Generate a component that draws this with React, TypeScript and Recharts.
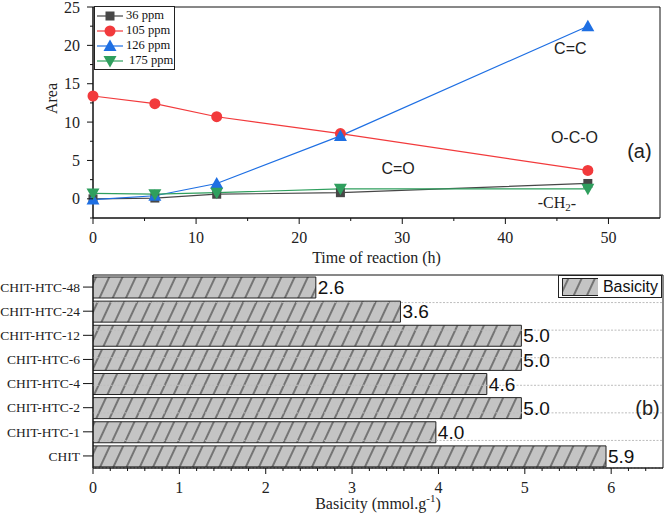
import React from "react";
import {
  LineChart, Line, BarChart, Bar, XAxis, YAxis, Legend,
  ReferenceArea, ReferenceDot, ReferenceLine, LabelList,
} from "recharts";

const SERIF = '"Liberation Serif", "Times New Roman", serif';
const SANS = '"Liberation Sans", Arial, sans-serif';

/* ---------- panel (a): peak area vs reaction time ---------- */
const times = [0, 6, 12, 24, 48];
const area36 = [0.0, 0.1, 0.6, 0.8, 2.0];
const area105 = [13.4, 12.4, 10.7, 8.5, 3.7];
const area126 = [-0.1, 0.4, 2.0, 8.2, 22.5];
const area175 = [0.7, 0.6, 0.8, 1.3, 1.3];

const seriesLabels = ["36 ppm", "105 ppm", "126 ppm", "175 ppm"];
const seriesKeys = ["p36", "p105", "p126", "p175"];
const seriesColors = ["#474747", "#f23a3c", "#1e6fe3", "#2f9f5e"];
const seriesShapes = ["square", "circle", "up", "down"];

const timeTicks = [0, 5, 10, 15, 20, 25, 30, 35, 40, 45, 50];
const areaTicks = [-2.5, 0, 2.5, 5, 7.5, 10, 12.5, 15, 17.5, 20, 22.5, 25];

const peakNotes = [
  { text: "C=C", x: 46.3, y: 19.6, size: 16 },
  { text: "O-C-O", x: 46.7, y: 8.0, size: 16 },
  { text: "C=O", x: 29.6, y: 4.0, size: 16 },
  { text: "(a)", x: 53.0, y: 6.2, size: 20 },
];

const lineData = times.map((t, i) => ({
  t,
  p36: area36[i],
  p105: area105[i],
  p126: area126[i],
  p175: area175[i],
}));

/* ---------- panel (b): basicity ---------- */
const samples = [
  "CHIT-HTC-48", "CHIT-HTC-24", "CHIT-HTC-12", "CHIT-HTC-6",
  "CHIT-HTC-4", "CHIT-HTC-2", "CHIT-HTC-1", "CHIT",
];
const basicity = [2.58, 3.56, 4.96, 4.96, 4.56, 4.96, 3.97, 5.94];
const basicityMajor = [0, 1, 2, 3, 4, 5, 6];
const basicityTicks = Array.from({ length: 33 }, (_, i) => Math.round(i * 2) / 10);

const barData = samples.map((name, i) => ({ name, value: basicity[i] }));
const bandEdges = samples.slice(1).map((_, i) => i + 1);

function Marker({ shape, cx, cy, color }: { shape: string; cx?: number; cy?: number; color: string }) {
  if (cx == null || cy == null) return null;
  if (shape === "square") return <rect x={cx - 4.5} y={cy - 4.5} width={9} height={9} fill={color} />;
  if (shape === "circle") return <circle cx={cx} cy={cy} r={5.5} fill={color} />;
  if (shape === "up")
    return <polygon points={`${cx},${cy - 6.5} ${cx + 6.5},${cy + 5} ${cx - 6.5},${cy + 5}`} fill={color} />;
  return <polygon points={`${cx},${cy + 6.5} ${cx + 6.5},${cy - 5} ${cx - 6.5},${cy - 5}`} fill={color} />;
}

// bottom axis tick with major/minor lengths drawn by hand
const BottomTick = ({ x, y, payload, isMajor }: any) => {
  const major = isMajor(payload.value);
  return (
    <g>
      <line x1={x} x2={x} y1={y} y2={y + (major ? 6 : 3)} stroke="#111" />
      {major && (
        <text x={x} y={y + 25} textAnchor="middle" fontFamily={SERIF} fontSize={16} fill="#222">
          {payload.value}
        </text>
      )}
    </g>
  );
};

const LeftTick = ({ x, y, payload }: any) => {
  const major = payload.value % 5 === 0;
  return (
    <g>
      <line x1={x - (major ? 6 : 3)} x2={x} y1={y} y2={y} stroke="#111" />
      {major && (
        <text x={x - 13} y={y} dy="0.35em" textAnchor="end" fontFamily={SERIF} fontSize={16} fill="#222">
          {payload.value}
        </text>
      )}
    </g>
  );
};

const AreaLegend = () => (
  <div style={{ border: "1px solid #222", background: "#fff", width: 79, padding: "1px 0", fontFamily: SERIF, fontSize: 12.5, color: "#111", lineHeight: "15px" }}>
    {seriesLabels.map((name, i) => (
      <div key={name} style={{ display: "flex", alignItems: "center", height: 15 }}>
        <svg width={30} height={14}>
          <line x1={2} x2={28} y1={7} y2={7} stroke={seriesColors[i]} strokeWidth={1.2} />
          <Marker shape={seriesShapes[i]} cx={15} cy={7} color={seriesColors[i]} />
        </svg>
        <span style={{ marginLeft: i === 3 ? 4 : 1 }}>{name}</span>
      </div>
    ))}
  </div>
);

const BasicityLegend = () => (
  <div style={{ border: "1px solid #222", background: "#fff", height: 23, width: 104, display: "flex", alignItems: "center", boxSizing: "border-box", padding: "0 3px", fontFamily: SANS, fontSize: 16, color: "#111" }}>
    <svg width={38} height={18}>
      <defs>
        <pattern id="hatchLegend" patternUnits="userSpaceOnUse" width="12" height="12" patternTransform="rotate(25)">
          <rect width="12" height="12" fill="#c4c4c4" />
          <line x1="6" y1="0" x2="6" y2="12" stroke="#333" strokeWidth="1.1" />
        </pattern>
      </defs>
      <rect x={0.5} y={0.5} width={37} height={17} fill="url(#hatchLegend)" stroke="#222" />
    </svg>
    <span style={{ marginLeft: 5 }}>Basicity</span>
  </div>
);

function AreaChartPanel() {
  return (
    <LineChart width={666} height={270} data={lineData} margin={{ top: 7, right: 6, left: 0, bottom: 4 }}>
      <XAxis
        dataKey="t" type="number" domain={[0, 55]} ticks={timeTicks} interval={0}
        height={48} tickSize={0} tickMargin={0} tickLine={false}
        axisLine={{ stroke: "#111" }}
        tick={<BottomTick isMajor={(v: number) => v % 10 === 0} />}
        label={(p: any) => (
          <text x={p.viewBox.x + p.viewBox.width / 2} y={p.viewBox.y + p.viewBox.height - 3}
            textAnchor="middle" fontFamily={SERIF} fontSize={16} fill="#222">
            Time of reaction (h)
          </text>
        )}
      />
      <YAxis
        type="number" domain={[-2.5, 25]} ticks={areaTicks} interval={0}
        width={93} tickSize={0} tickMargin={0} tickLine={false}
        axisLine={{ stroke: "#111" }}
        tick={<LeftTick />}
        label={(p: any) => {
          const cx = p.viewBox.x + 51;
          const cy = p.viewBox.y + p.viewBox.height / 2 - 14;
          return (
            <text x={cx} y={cy} transform={`rotate(-90, ${cx}, ${cy})`} textAnchor="middle"
              dominantBaseline="central" fontFamily={SERIF} fontSize={16} fill="#222">
              Area
            </text>
          );
        }}
      />
      <ReferenceArea x1={0} x2={55} fill="none" stroke="#111" strokeWidth={1} fillOpacity={0} />
      {seriesKeys.map((k, i) => (
        <Line
          key={k}
          dataKey={k}
          name={seriesLabels[i]}
          type="linear"
          stroke={seriesColors[i]}
          strokeWidth={1.2}
          isAnimationActive={false}
          dot={(p: any) => (
            <Marker key={`${k}-${p.index}`} shape={seriesShapes[i]} cx={p.cx} cy={p.cy} color={seriesColors[i]} />
          )}
          activeDot={false}
        />
      ))}
      {peakNotes.map((n) => (
        <ReferenceDot
          key={n.text} x={n.x} y={n.y} r={0}
          shape={(p: any) => (
            <text x={p.cx} y={p.cy} textAnchor="middle" dominantBaseline="central"
              fontFamily={SANS} fontSize={n.size} fill="#222">
              {n.text}
            </text>
          )}
        />
      ))}
      <ReferenceDot
        x={45} y={-0.5} r={0}
        shape={(p: any) => (
          <text x={p.cx} y={p.cy} textAnchor="middle" dominantBaseline="central"
            fontFamily={SERIF} fontSize={16} fill="#222">
            -CH<tspan fontSize={11} dy={4}>2</tspan><tspan dy={-4}>-</tspan>
          </text>
        )}
      />
      <Legend
        layout="horizontal" verticalAlign="middle" align="center"
        wrapperStyle={{ top: 6, left: 94, width: "auto" }}
        content={() => <AreaLegend />}
      />
    </LineChart>
  );
}

function BasicityPanel() {
  return (
    <BarChart
      width={666} height={243} data={barData} layout="vertical"
      margin={{ top: 5, right: 3, left: 0, bottom: 5 }}
      barCategoryGap={3}
    >
      <defs>
        <pattern id="hatch" patternUnits="userSpaceOnUse" width="12" height="12" patternTransform="rotate(25)">
          <rect width="12" height="12" fill="#c4c4c4" />
          <line x1="6" y1="0" x2="6" y2="12" stroke="#333" strokeWidth="1.1" />
        </pattern>
      </defs>
      <XAxis
        type="number" domain={[0, 6.6]} ticks={basicityTicks} interval={0} allowDataOverflow
        height={40} tickSize={0} tickMargin={0} tickLine={false}
        axisLine={{ stroke: "#111" }}
        tick={<BottomTick isMajor={(v: number) => basicityMajor.includes(v)} />}
        label={(p: any) => (
          <text x={p.viewBox.x + p.viewBox.width / 2} y={p.viewBox.y + p.viewBox.height + 1}
            textAnchor="middle" fontFamily={SERIF} fontSize={16} fill="#222">
            Basicity (mmol.g<tspan fontSize={11} dy={-7}>-1</tspan><tspan dy={7}>)</tspan>
          </text>
        )}
      />
      <YAxis
        type="category" dataKey="name" width={93}
        tickSize={10} tickMargin={3}
        tickLine={{ stroke: "#111" }} axisLine={{ stroke: "#111" }}
        tick={{ fill: "#222", fontSize: 13.5, fontFamily: SERIF }}
      />
      <YAxis yAxisId="g" type="number" domain={[0, samples.length]} hide />
      {bandEdges.map((e) => (
        <ReferenceLine key={e} yAxisId="g" y={e} stroke="#bdbdbd" strokeDasharray="2 1.5" />
      ))}
      <ReferenceArea x1={0} x2={6.6} fill="none" stroke="#111" strokeWidth={1} fillOpacity={0} />
      <Bar dataKey="value" barSize={21} fill="url(#hatch)" stroke="#222" strokeWidth={1} isAnimationActive={false}>
        <LabelList
          dataKey="value" position="right" offset={2}
          formatter={(v: any) => Number(v).toFixed(1)}
          style={{ fontFamily: SANS, fontSize: 19, fill: "#111" }}
        />
      </Bar>
      <ReferenceDot
        x={6.42} y="CHIT-HTC-2" r={0}
        shape={(p: any) => (
          <text x={p.cx} y={p.cy} textAnchor="middle" dominantBaseline="central"
            fontFamily={SANS} fontSize={20} fill="#222">
            (b)
          </text>
        )}
      />
      <Legend
        layout="horizontal" verticalAlign="middle" align="center"
        wrapperStyle={{ top: 5, left: 558, width: "auto" }}
        content={() => <BasicityLegend />}
      />
    </BarChart>
  );
}

export default function App() {
  return (
    <div style={{ position: "absolute", left: 0, top: 0, width: 666, height: 513, background: "#fff" }}>
      <AreaChartPanel />
      <BasicityPanel />
    </div>
  );
}
